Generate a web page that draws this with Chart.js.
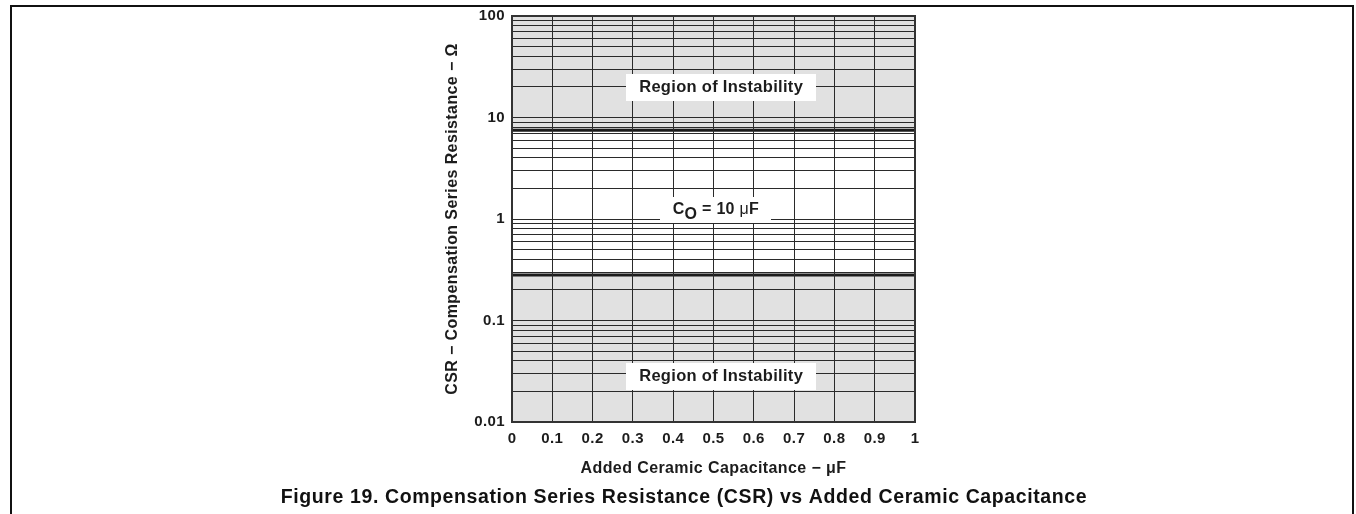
<!DOCTYPE html>
<html>
<head>
<meta charset="utf-8">
<script src="https://cdn.jsdelivr.net/npm/chart.js@4.4.1/dist/chart.umd.min.js"></script>
<style>
  html, body { margin: 0; padding: 0; background: #fff; }
  #wrap { position: relative; width: 1356px; height: 514px; overflow: hidden; }
  #frame { position: absolute; left: 10px; top: 5px; width: 1340px; height: 530px; border: 2px solid #111; border-bottom: none; }
  canvas { position: absolute; left: 0; top: 0; }
</style>
</head>
<body>
<div id="wrap">
  <div id="frame"></div>
  <canvas id="csrChart" width="1356" height="514"></canvas>
</div>
<script>
// CSR vs added ceramic capacitance, log y axis

var capacitance = [0, 1];          // uF, x extent of the two limit lines
var csrUpper = [7.5, 7.5];         // ohm, upper stability limit
var csrLower = [0.28, 0.28];       // ohm, lower stability limit
var xTickValues = [0, 0.1, 0.2, 0.3, 0.4, 0.5, 0.6, 0.7, 0.8, 0.9, 1];
var yDecades = [0.01, 0.1, 1, 10, 100];
var yMinorSteps = [1, 2, 3, 4, 5, 6, 7, 8, 9];

var FONT = "'Liberation Sans', Arial, Helvetica, sans-serif";
var INK = '#1c1c1c';
var SHADE = '#e1e1e1';
var CAPTION = 'Figure 19. Compensation Series Resistance (CSR) vs Added Ceramic Capacitance';

function toPoints(xs, ys) {
	return xs.map(function (x, i) { return { x: x, y: ys[i] }; });
}

// every gridline of the log axis: 1..9 in each decade, then the top
var yGridValues = [];
yDecades.slice(0, -1).forEach(function (d) {
	yMinorSteps.forEach(function (m) { yGridValues.push(+(d * m).toPrecision(3)); });
});
yGridValues.push(yDecades[yDecades.length - 1]);

function whiteBox(ctx, cx, cy, w, h) {
	ctx.fillStyle = '#fff';
	ctx.fillRect(Math.round(cx - w / 2), Math.round(cy - h / 2), Math.round(w), Math.round(h));
}

// the printed figure uses a slightly wider face than Liberation Sans
var wideText = {
	id: 'wideText',
	beforeUpdate: function (chart) { chart.ctx.letterSpacing = '0.4px'; },
	beforeDraw: function (chart) { chart.ctx.letterSpacing = '0.4px'; }
};

var regionLabels = {
	id: 'regionLabels',
	afterDraw: function (chart) {
		var ctx = chart.ctx, xs = chart.scales.x, ys = chart.scales.y, a = chart.chartArea;
		ctx.save();
		// plot frame
		ctx.strokeStyle = '#333';
		ctx.lineWidth = 2;
		ctx.strokeRect(a.left, a.top, a.right - a.left, a.bottom - a.top);

		ctx.letterSpacing = '0.3px';
		ctx.font = 'bold 16.5px ' + FONT;
		ctx.textBaseline = 'middle';
		ctx.textAlign = 'center';
		var txt = 'Region of Instability';
		[[0.519, 19.7], [0.519, 0.0278]].forEach(function (p) {
			var cx = xs.getPixelForValue(p[0]), cy = ys.getPixelForValue(p[1]);
			whiteBox(ctx, cx, cy, 190, 27);
			ctx.fillStyle = INK;
			ctx.fillText(txt, cx, cy);
		});

		// C_O = 10 uF, with subscript
		var parts = [
			{ t: 'C', f: 'bold 16px ' + FONT, dy: 0 },
			{ t: 'O', f: 'bold 16px ' + FONT, dy: 5 },
			{ t: ' = 10 ', f: 'bold 16px ' + FONT, dy: 0 },
			{ t: 'μ', f: '16px ' + FONT, dy: 0 },
			{ t: 'F', f: 'bold 16px ' + FONT, dy: 0 }
		];
		var total = 0;
		parts.forEach(function (p) { ctx.font = p.f; p.w = ctx.measureText(p.t).width; total += p.w; });
		var cx = xs.getPixelForValue(0.506), cy = ys.getPixelForValue(1.25);
		whiteBox(ctx, cx, cy + 1, 111, 26);
		ctx.textAlign = 'left';
		ctx.fillStyle = INK;
		var x0 = cx - total / 2;
		parts.forEach(function (p) {
			ctx.font = p.f;
			ctx.fillText(p.t, x0, cy + p.dy);
			x0 += p.w;
		});

		// figure caption, centred on the page
		ctx.letterSpacing = '0.6px';
		ctx.font = 'bold 19.5px ' + FONT;
		ctx.textAlign = 'center';
		ctx.textBaseline = 'alphabetic';
		ctx.fillStyle = '#111';
		ctx.fillText(CAPTION, 684, 503);
		ctx.restore();
	}
};

var tickFont = { family: FONT, size: 15, weight: 'bold' };
var titleFont = { family: FONT, size: 16, weight: 'bold' };

new Chart(document.getElementById('csrChart'), {
	type: 'scatter',
	data: {
		datasets: [{
			data: toPoints(capacitance, csrUpper),
			showLine: true,
			borderColor: INK,
			borderWidth: 3,
			pointRadius: 0,
			fill: 'end',
			backgroundColor: SHADE
		}, {
			data: toPoints(capacitance, csrLower),
			showLine: true,
			borderColor: INK,
			borderWidth: 3,
			pointRadius: 0,
			fill: 'start',
			backgroundColor: SHADE
		}]
	},
	options: {
		responsive: false,
		animation: false,
		layout: {
			padding: { left: 432, right: 441, top: 15, bottom: 34 }
		},
		plugins: {
			legend: { display: false },
			tooltip: { enabled: false },
			title: { display: false }
		},
		scales: {
			x: {
				type: 'linear',
				min: 0,
				max: 1,
				afterBuildTicks: function (s) {
					s.ticks = xTickValues.map(function (v) { return { value: v }; });
				},
				afterFit: function (s) { s.height = 58; },
				grid: { color: '#2a2a2a', lineWidth: 1, drawTicks: false, z: 1 },
				border: { display: false },
				ticks: {
					font: tickFont, color: INK, padding: 8, maxRotation: 0, autoSkip: false,
					callback: function (v) { return String(v); }
				},
				title: {
					display: true,
					text: 'Added Ceramic Capacitance − μF',
					font: titleFont,
					color: INK,
					padding: { top: 0, bottom: 2 }
				}
			},
			y: {
				type: 'logarithmic',
				min: 0.01,
				max: 100,
				afterBuildTicks: function (s) {
					s.ticks = yGridValues.map(function (v) { return { value: v }; });
				},
				afterFit: function (s) { s.width = 80; },
				grid: { color: '#2a2a2a', lineWidth: 1, drawTicks: false, z: 1 },
				border: { display: false },
				ticks: {
					font: tickFont, color: INK, padding: 7, autoSkip: false,
					callback: function (v) { return yDecades.indexOf(v) >= 0 ? String(v) : ''; }
				},
				title: {
					display: true,
					text: 'CSR − Compensation Series Resistance − Ω',
					font: titleFont,
					color: INK,
					padding: { top: 11, bottom: 0 }
				}
			}
		}
	},
	plugins: [wideText, regionLabels]
});
</script>
</body>
</html>
